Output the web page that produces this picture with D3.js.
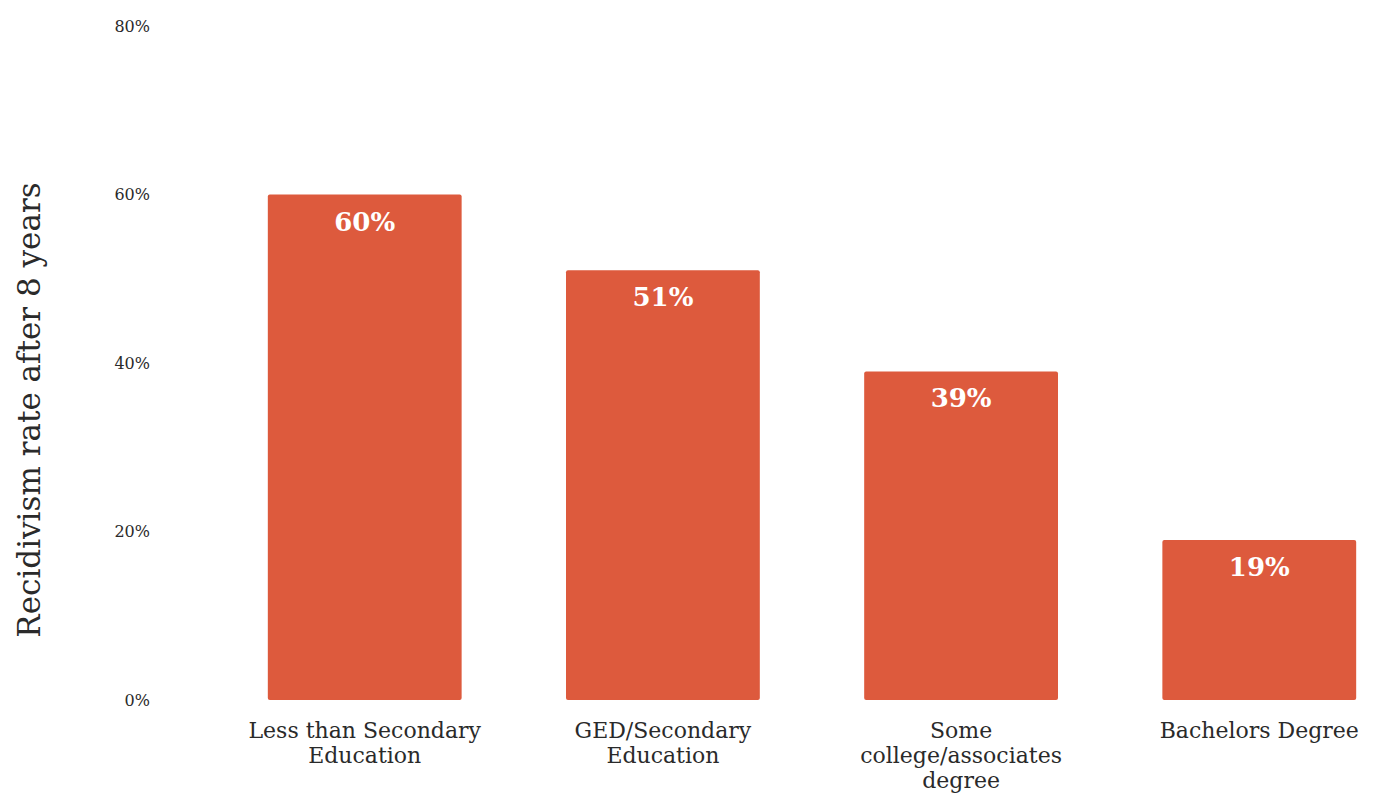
<!DOCTYPE html>
<html>
<head>
<meta charset="utf-8">
<script src="https://cdn.jsdelivr.net/npm/d3@7"></script>
<style>
  html, body { margin: 0; padding: 0; background: #ffffff; }
  svg { display: block; }
</style>
</head>
<body>
<svg id="chart" width="1383" height="799"></svg>
<script>
const categories = [
  ["Less than Secondary", "Education"],
  ["GED/Secondary", "Education"],
  ["Some", "college/associates", "degree"],
  ["Bachelors Degree"]
];
const categoryKeys = ["Less than Secondary Education", "GED/Secondary Education", "Some college/associates degree", "Bachelors Degree"];
const values = [0.60, 0.51, 0.39, 0.19];
const yTicks = [0, 0.2, 0.4, 0.6, 0.8];
const yTitle = "Recidivism rate after 8 years";

const svg = d3.select("#chart");
const fontFamily = "'DejaVu Serif', 'Liberation Serif', serif";
const barColor = "#dd5a3d";
const textColor = "#2a2a2a";

const x = d3.scaleBand()
  .domain(categoryKeys)
  .range([238, 1386])
  .paddingInner(0.35)
  .paddingOuter(0.1);

const y = d3.scaleLinear()
  .domain([0, 0.8])
  .range([700, 26]);

const data = categoryKeys.map((k, i) => ({ key: k, lines: categories[i], value: values[i] }));

// Y axis (labels only)
const yAxis = d3.axisLeft(y)
  .tickValues(yTicks)
  .tickFormat(d3.format(".0%"))
  .tickSize(0)
  .tickPadding(0);

const gy = svg.append("g")
  .attr("transform", "translate(150,0)")
  .call(yAxis);
gy.select(".domain").remove();
gy.selectAll("text")
  .attr("font-family", fontFamily)
  .attr("font-size", 16)
  .attr("fill", textColor);

// Y title
svg.append("text")
  .attr("transform", "translate(40,410) rotate(-90)")
  .attr("text-anchor", "middle")
  .attr("font-family", fontFamily)
  .attr("font-size", 31)
  .attr("fill", textColor)
  .text(yTitle);

// Bars
svg.append("g").selectAll("rect")
  .data(data)
  .join("rect")
  .attr("x", d => x(d.key))
  .attr("y", d => y(d.value))
  .attr("width", x.bandwidth())
  .attr("height", d => y(0) - y(d.value))
  .attr("rx", 2)
  .attr("fill", barColor);

// Value labels
svg.append("g").selectAll("text")
  .data(data)
  .join("text")
  .attr("x", d => x(d.key) + x.bandwidth() / 2)
  .attr("y", d => y(d.value) + 36)
  .attr("text-anchor", "middle")
  .attr("font-family", fontFamily)
  .attr("font-weight", "bold")
  .attr("font-size", 26)
  .attr("fill", "#ffffff")
  .text(d => d3.format(".0%")(d.value));

// Category labels
const xl = svg.append("g").selectAll("text")
  .data(data)
  .join("text")
  .attr("text-anchor", "middle")
  .attr("font-family", fontFamily)
  .attr("font-size", 22)
  .attr("fill", textColor);
xl.each(function(d) {
  const t = d3.select(this);
  d.lines.forEach((ln, i) => {
    t.append("tspan")
      .attr("x", x(d.key) + x.bandwidth() / 2)
      .attr("y", 738 + i * 25)
      .text(ln);
  });
});
</script>
</body>
</html>
